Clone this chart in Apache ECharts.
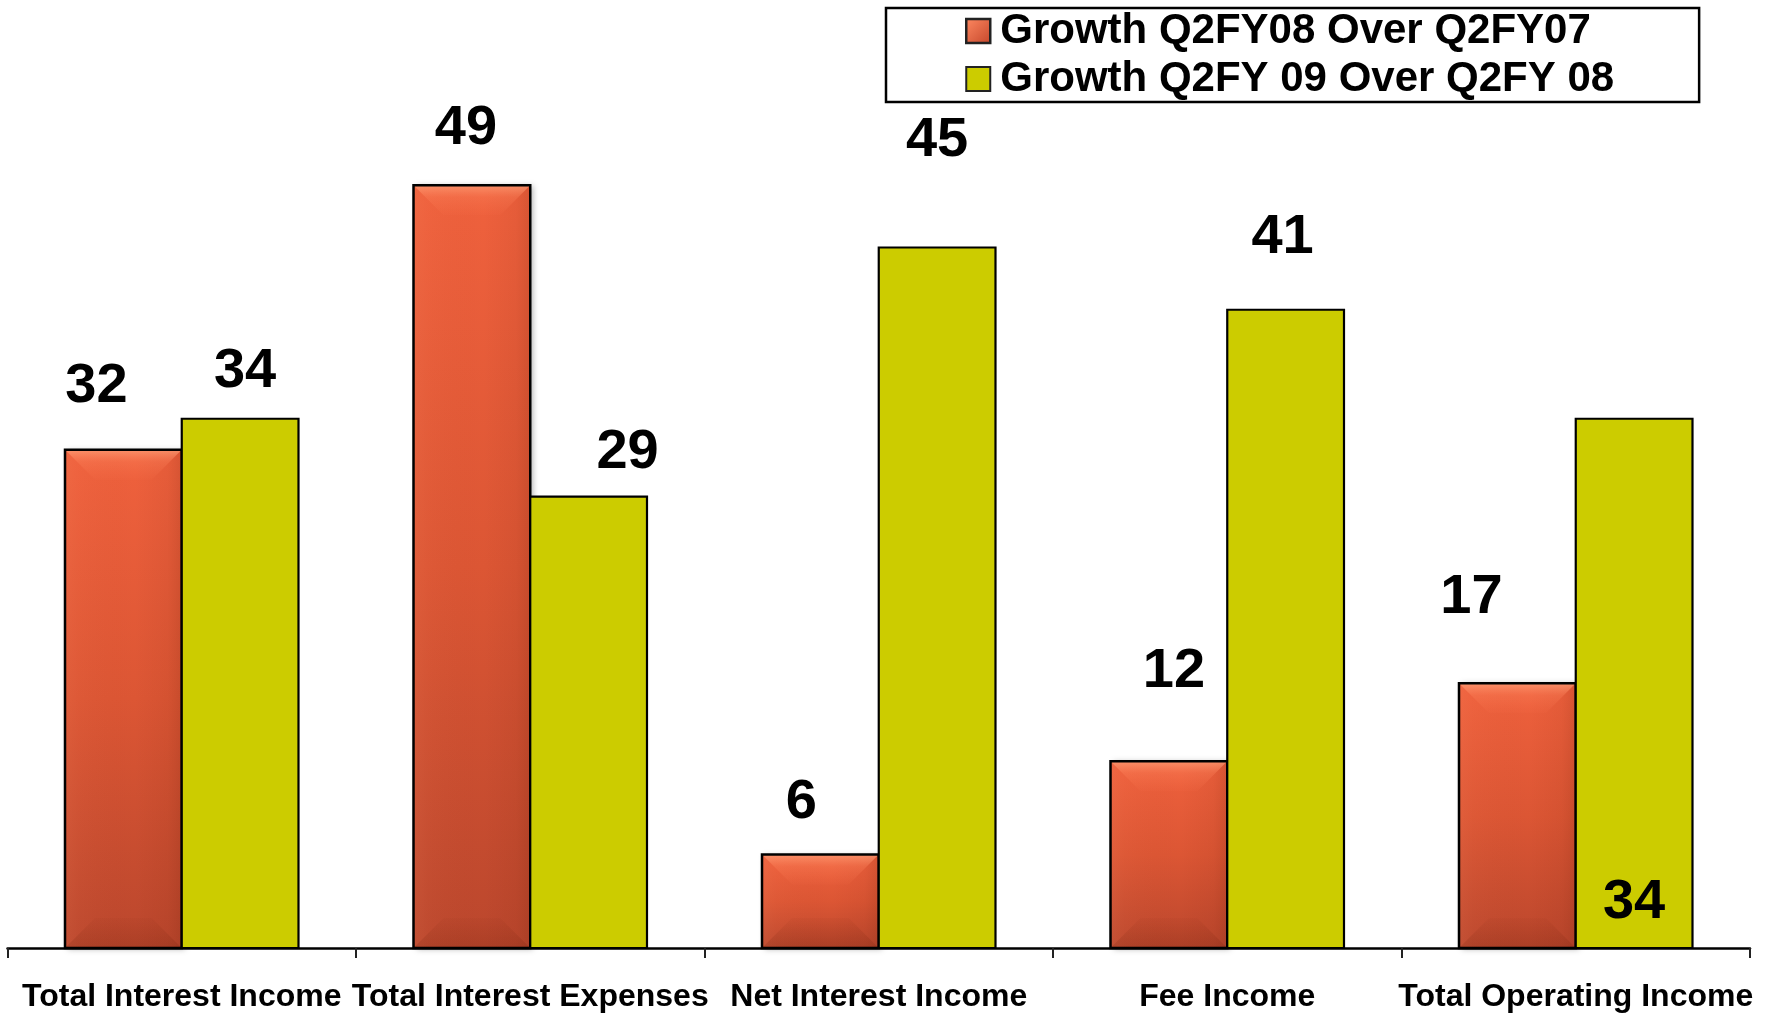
<!DOCTYPE html>
<html>
<head>
<meta charset="utf-8">
<script src="https://cdn.jsdelivr.net/npm/echarts@6/dist/echarts.min.js"></script>
<style>
  html, body { margin: 0; padding: 0; background: #ffffff; }
  #chart { width: 1769px; height: 1015px; }
</style>
</head>
<body>
<div id="chart"></div>
<script>
// ---- data ----
const categories = [
  'Total Interest Income',
  'Total Interest Expenses',
  'Net Interest Income',
  'Fee Income',
  'Total Operating Income'
];
const seriesNames = ['Growth Q2FY08 Over Q2FY07', 'Growth Q2FY 09 Over Q2FY 08'];
const growthFY08 = [32, 49, 6, 12, 17];
const growthFY09 = [34, 29, 45, 41, 34];

// ---- value label placement: pixel offset of the label centre from the bar's top centre
// (or from its base centre where the anchor says 'base') ----
const labelOffsetsFY08 = [[-27, -63], [-6, -57], [-19, -52], [5, -90], [-46, -86]];
const labelAnchorsFY08 = ['top', 'top', 'top', 'top', 'top'];
const labelOffsetsFY09 = [[5, -47], [39, -44], [0, -107], [-3, -72], [0, -45]];
const labelAnchorsFY09 = ['top', 'top', 'top', 'top', 'base'];

// ---- styling ----
const FONT = '"Liberation Sans", Arial, Helvetica, sans-serif';
const CATEGORY_GAP = 0.33;     // share of each category band left empty
const RED = '#e65a38';
const YELLOW = '#cccc00';

const G = echarts.graphic;

// geometry of one bar of a two-bar cluster (side 0 = left, 1 = right)
function barGeom(api, side) {
  const idx = api.value(0);
  const v = api.value(1);
  const base = api.coord([idx, 0]);
  const top = api.coord([idx, v]);
  const band = api.size([1, 0])[0];
  const w = band * (1 - CATEGORY_GAP) / 2;
  const x = side === 0 ? base[0] - w : base[0];
  return { x: x, y: top[1], w: w, h: base[1] - top[1], cx: x + w / 2, baseY: base[1], v: v };
}

function valueLabel(g, offset, anchor) {
  const y0 = anchor === 'base' ? g.baseY : g.y;
  return {
    type: 'text',
    z2: 100,
    style: {
      text: String(g.v),
      x: g.cx + offset[0],
      y: y0 + offset[1],
      align: 'center',
      verticalAlign: 'middle',
      fontSize: 56,
      fontWeight: 'bold',
      fontFamily: FONT,
      fill: '#000000'
    }
  };
}

// bevelled orange-red bar
function renderFY08(params, api) {
  const g = barGeom(api, 0);
  const i = params.dataIndex;
  const x = g.x, y = g.y, w = g.w, h = g.h;
  const b = Math.min(30, w / 2, h / 2);
  return {
    type: 'group',
    children: [
      { // main face
        type: 'rect',
        shape: { x: x, y: y, width: w, height: h },
        style: {
          fill: new G.LinearGradient(0, 0, 0, 1, [
            { offset: 0, color: '#ef613d' },
            { offset: 0.5, color: '#dc5634' },
            { offset: 1, color: '#bb472d' }
          ]),
          shadowBlur: 6, shadowOffsetX: 3, shadowOffsetY: 1,
          shadowColor: 'rgba(0,0,0,0.3)'
        }
      },
      { // soft side shading, light on the left, darker to the right
        type: 'rect',
        shape: { x: x, y: y, width: w, height: h },
        style: {
          fill: new G.LinearGradient(0, 0, 1, 0, [
            { offset: 0, color: 'rgba(255,160,120,0.10)' },
            { offset: 0.12, color: 'rgba(255,160,120,0.04)' },
            { offset: 0.6, color: 'rgba(90,20,0,0)' },
            { offset: 0.88, color: 'rgba(90,20,0,0.06)' },
            { offset: 1, color: 'rgba(90,20,0,0.16)' }
          ])
        }
      },
      { // top bevel
        type: 'polygon',
        shape: { points: [[x, y], [x + w, y], [x + w - b, y + b], [x + b, y + b]] },
        style: {
          fill: new G.LinearGradient(0, 0, 0, 1, [
            { offset: 0, color: 'rgba(255,165,125,0.70)' },
            { offset: 0.4, color: 'rgba(255,135,95,0.30)' },
            { offset: 1, color: 'rgba(255,120,80,0.06)' }
          ])
        }
      },
      { // bottom bevel
        type: 'polygon',
        shape: { points: [[x, y + h], [x + b, y + h - b], [x + w - b, y + h - b], [x + w, y + h]] },
        style: {
          fill: new G.LinearGradient(0, 0, 0, 1, [
            { offset: 0, color: 'rgba(90,20,0,0.03)' },
            { offset: 1, color: 'rgba(90,20,0,0.16)' }
          ])
        }
      },
      {
        type: 'rect',
        shape: { x: x, y: y, width: w, height: h },
        style: { fill: 'none', stroke: '#000000', lineWidth: 2.5 }
      },
      valueLabel(g, labelOffsetsFY08[i], labelAnchorsFY08[i])
    ]
  };
}

// flat yellow bar
function renderFY09(params, api) {
  const g = barGeom(api, 1);
  const i = params.dataIndex;
  return {
    type: 'group',
    children: [
      {
        type: 'rect',
        shape: { x: g.x, y: g.y, width: g.w, height: g.h },
        style: { fill: YELLOW, stroke: '#000000', lineWidth: 2.2 }
      },
      valueLabel(g, labelOffsetsFY09[i], labelAnchorsFY09[i])
    ]
  };
}

const chart = echarts.init(document.getElementById('chart'), null, { renderer: 'canvas' });

chart.setOption({
  backgroundColor: '#ffffff',
  animation: false,
  grid: { left: 7.5, right: 19, top: 14, bottom: 67, containLabel: false },
  legend: {
    orient: 'vertical',
    left: 886,
    top: 8,
    padding: [2, 85, 2, 79],
    itemGap: 6,
    itemWidth: 24,
    itemHeight: 24,
    borderColor: '#000000',
    borderWidth: 2.5,
    backgroundColor: '#ffffff',
    selectedMode: false,
    textStyle: {
      color: '#000000',
      fontSize: 42,
      fontWeight: 'bold',
      fontFamily: FONT,
      lineHeight: 42,
      padding: [0, 0, 0, 5]
    },
    data: [
      {
        name: seriesNames[0],
        icon: 'rect',
        itemStyle: {
          color: new G.LinearGradient(0, 0, 1, 1, [
            { offset: 0, color: '#ff8a62' },
            { offset: 1, color: '#c4452a' }
          ]),
          borderColor: '#222222',
          borderWidth: 2.5
        }
      },
      {
        name: seriesNames[1],
        icon: 'rect',
        itemStyle: { color: YELLOW, borderColor: '#222222', borderWidth: 2 }
      }
    ]
  },
  xAxis: {
    type: 'category',
    data: categories,
    boundaryGap: true,
    axisLine: { show: true, lineStyle: { color: '#000000', width: 2.5 } },
    axisTick: { show: true, length: 10, lineStyle: { color: '#222222', width: 2 } },
    axisLabel: {
      interval: 0,
      margin: 33,
      color: '#000000',
      fontSize: 32,
      fontWeight: 'bold',
      fontFamily: FONT
    },
    splitLine: { show: false },
    z: 3
  },
  yAxis: {
    type: 'value',
    min: 0,
    max: 60,
    show: false,
    splitLine: { show: false }
  },
  series: [
    {
      name: seriesNames[0],
      type: 'custom',
      renderItem: renderFY08,
      itemStyle: { color: RED },
      encode: { x: 0, y: 1 },
      clip: false,
      data: growthFY08.map((v, i) => [i, v])
    },
    {
      name: seriesNames[1],
      type: 'custom',
      renderItem: renderFY09,
      itemStyle: { color: YELLOW },
      encode: { x: 0, y: 1 },
      clip: false,
      data: growthFY09.map((v, i) => [i, v])
    }
  ]
});
</script>
</body>
</html>
